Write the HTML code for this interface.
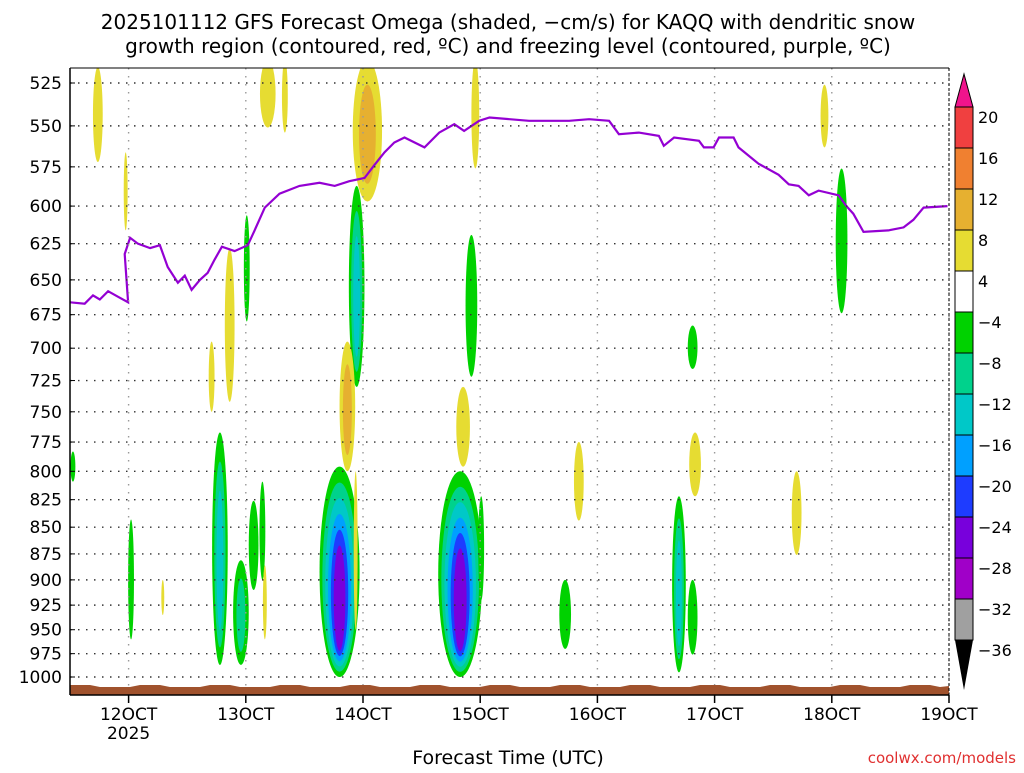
<!DOCTYPE html>
<html><head><meta charset="utf-8"><style>
body{margin:0;background:#fff;width:1024px;height:768px;overflow:hidden}
svg text{font-family:"DejaVu Sans","Liberation Sans",sans-serif;fill:#000}
</style></head><body>
<svg id="chart" width="1024" height="768" xmlns="http://www.w3.org/2000/svg">
<text x="508" y="29" font-size="20" text-anchor="middle">2025101112 GFS Forecast Omega (shaded, −cm/s) for KAQQ with dendritic snow</text>
<text x="508" y="53" font-size="20" text-anchor="middle">growth region (contoured, red, ºC) and freezing level (contoured, purple, ºC)</text>
<g id="plot"></g>
<text x="508" y="764" font-size="19" text-anchor="middle">Forecast Time (UTC)</text>
<text x="1016" y="763" font-size="15" text-anchor="end" style="fill:#e03030">coolwx.com/models</text>
<g id="cbar"></g>
</svg>
<script>
const pLevels=[525,550,575,600,625,650,675,700,725,750,775,800,825,850,875,900,925,950,975,1000];
const dayLabels=["12OCT","13OCT","14OCT","15OCT","16OCT","17OCT","18OCT","19OCT"];
const fzHours=[0,3,4.7,6.1,7.8,9.8,11.9,11.2,12.3,13.9,16.4,18.4,20,22.1,23.5,24.9,26.6,28.2,29.6,31.1,33.7,36.4,37.8,39.9,42.9,47,51.1,54.2,57.2,60.3,62.3,64.4,66.4,68.5,72.6,75.6,78.7,80.7,83.8,85.9,94,102.2,106.3,110.4,112.4,116.5,120.6,121.6,123.7,128.8,129.8,131.8,132.9,135.9,136.9,141,145.1,147.2,149.2,151.3,153.3,157.4,159,160.4,162.5,167.6,170.7,172.7,174.8,179.7];
const fzPres=[666,667,661,664,658,662,666,632,621,625,628,626,641,652,647,657,650,645,636,627,630,626,616,601,592,587,585,587,584,582,574,566,560,557,563,554,549,553,547,545,547,547,546,547,555,554,556,562,557,559,563,563,557,557,563,573,580,586,587,593,590,593,600,605,617,616,614,609,601,600];
const blobHour=[58.7,82.2,55.2,79.9,84.2,30.7,35,37.6,39.4,12.5,36.2,124.7,127.5,127.5,158,101.4,0.6,5.7,11.4,40.5,44,60.9,83,32.7,29,56.8,58.5,80.5,104.2,128,148.8,154.5,39.9,19];
const blobPTop=[587,619,796,800,822,767,881,826,809,843,606,822,900,683,576,900,783,516,566,512,512,512,512,628,695,695,800,730,775,767,800,526,886,900];
const blobPBot=[730,722,1000,1000,920,987,987,910,900,960,680,995,976,716,674,970,809,572,616,551,554,597,576,742,750,800,950,796,844,822,876,563,960,935];
const blobHalfHours=[1.6,1.2,4.1,4.5,0.6,1.6,1.6,1,0.6,0.6,0.6,1.4,1,1,1.2,1.2,0.5,1,0.4,1.6,0.6,3,0.8,1,0.6,1.6,0.4,1.4,1,1.2,1,0.8,0.4,0.3];
const blobPeak=[-14,-6,-26,-27,-6,-14,-10,-6,-6,-6,-6,-14,-6,-6,-6,-6,-6,6,6,6,6,10,6,6,6,10,6,6,6,6,6,6,6,6];
const NS="http://www.w3.org/2000/svg";
const X0=70,X1=949,Y0=68,Y1=695,TOP=83,BOT=677;
const xs=h=>X0+(h/180)*(X1-X0);
const ys=p=>TOP+(Math.log(p/525)/Math.log(1000/525))*(BOT-TOP);
const negCols=["#00d200","#00d28c","#00c8c8","#00a0ff","#1e3cff","#7800dc","#a000c8","#a0a0a0"];
const posCols=["#e6dc32","#e6b030","#f08030","#f04040"];
function el(t,a,p){const e=document.createElementNS(NS,t);for(const k in a)e.setAttribute(k,a[k]);(p||plot).appendChild(e);return e;}
const plot=document.getElementById('plot');
const clip=el('clipPath',{id:'pc'});el('rect',{x:X0,y:Y0,width:X1-X0,height:Y1-Y0},clip);
const g=el('g',{'clip-path':'url(#pc)'});


for(let i=0;i<blobHour.length;i++){
  const v=Math.abs(blobPeak[i]);const n=Math.floor((v-4)/4)+1;
  const cols=blobPeak[i]<0?negCols:posCols;
  const cx=xs(blobHour[i]),yt=ys(blobPTop[i]),yb=ys(blobPBot[i]);
  const cy=(yt+yb)/2,ry=(yb-yt)/2,rx=xs(blobHalfHours[i])-X0;
  for(let k=0;k<n;k++){
    const s=1-k/n*0.85;
    const e=el('ellipse',{cx:cx,cy:cy+ry*0.05*k,rx:Math.max(rx*s,1),ry:ry*(1-k/n*0.6),fill:cols[Math.min(k,cols.length-1)]},g);
    
    
  }
}
pLevels.forEach(p=>{
  const y=ys(p);
  const l=el('line',{x1:X0,x2:X1,y1:y,y2:y,stroke:'#333','stroke-width':1.4,'stroke-dasharray':'1.5 6.5'});
  
  
  const t=el('text',{x:62,y:y+6,'font-size':17,'text-anchor':'end'});t.textContent=p;
  
  
  el('line',{x1:X0,x2:X0+5,y1:y,y2:y,stroke:'#000'});
});
dayLabels.forEach((d,i)=>{
  const x=xs(12+24*i);
  const l=el('line',{x1:x,x2:x,y1:Y0,y2:Y1,stroke:'#999','stroke-width':1.4,'stroke-dasharray':'1.5 6.5'});
  
  
  el('line',{x1:x,x2:x,y1:Y1,y2:Y1+8,stroke:'#000','stroke-width':1.5});
  const t=el('text',{x:x,y:720,'font-size':17,'text-anchor':'middle'});t.textContent=d;
  
  
});
const yr=el('text',{x:xs(12),y:739,'font-size':17,'text-anchor':'middle'});yr.textContent='2025';


let d='';fzHours.forEach((h,i)=>{d+=(i?'L':'M')+xs(h).toFixed(1)+' '+ys(fzPres[i]).toFixed(1);});
const fz=el('path',{d:d,fill:'none',stroke:'#9400d3','stroke-width':2.2},g);


let td='M'+X0+' '+Y1+'L'+X0+' 686';for(let x=X0;x<=X1;x+=10){td+='L'+x+' '+(((x/10)%7<3)?685:687);}td+='L'+X1+' 686L'+X1+' '+Y1+'Z';
const tr=el('path',{d:td,fill:'#a0522d'});


el('line',{x1:X0,x2:X0,y1:Y0,y2:Y1,stroke:'#000','stroke-width':1.5});
el('line',{x1:X0,x2:X1,y1:Y1,y2:Y1,stroke:'#000','stroke-width':1.5});
el('line',{x1:X0,x2:X1,y1:Y0,y2:Y0,stroke:'#000','stroke-width':1});
el('line',{x1:X1,x2:X1,y1:Y0,y2:Y1,stroke:'#000','stroke-width':1,'stroke-dasharray':'3 2'});
const cb=document.getElementById('cbar');
const cbVals=[20,16,12,8,4,-4,-8,-12,-16,-20,-24,-28,-32,-36];
const cbCols=["#f04040","#f08030","#e6b030","#e6dc32","#ffffff","#00d200","#00d28c","#00c8c8","#00a0ff","#1e3cff","#7800dc","#a000c8","#a0a0a0"];
const cbx=955,cbw=18,ct=107,step=41;
const up=el('path',{d:`M${cbx} ${ct}L${cbx+cbw/2} 74L${cbx+cbw} ${ct}Z`,fill:'#f0148c',stroke:'#000'},cb);


cbCols.forEach((c,i)=>{const r=el('rect',{x:cbx,y:ct+i*step,width:cbw,height:step,fill:c,stroke:'#000'},cb);

});
const bt=ct+cbCols.length*step;
const dn=el('path',{d:`M${cbx} ${bt}L${cbx+cbw/2} 690L${cbx+cbw} ${bt}Z`,fill:'#000'},cb);


cbVals.forEach((v,i)=>{const t=el('text',{x:978,y:ct+i*step+16,'font-size':16},cb);t.textContent=v<0?'−'+(-v):v;

});
</script>
</body></html>
